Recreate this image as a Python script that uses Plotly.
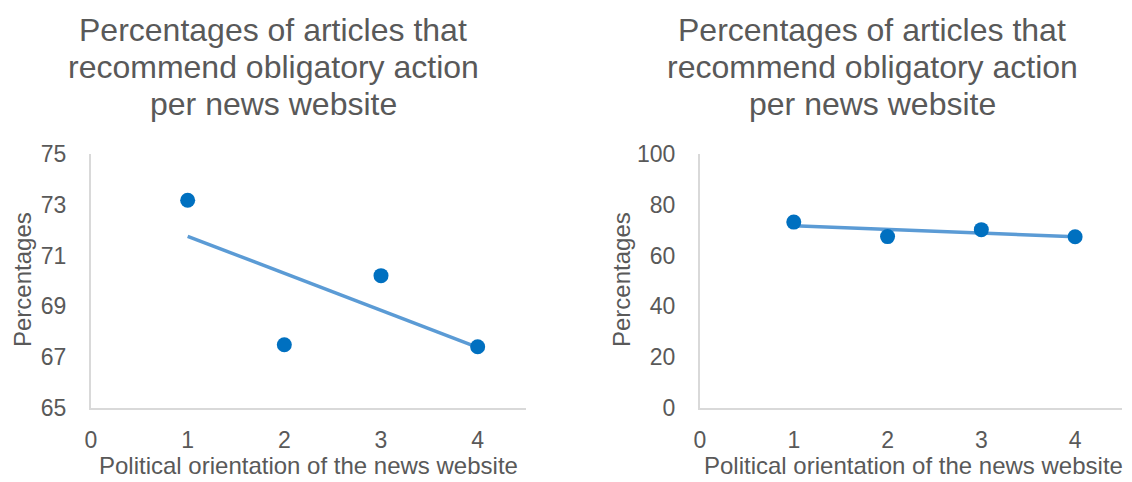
import numpy as np
import plotly.graph_objects as go

# Data
orientation = [1, 2, 3, 4]
percentages = [73.18, 67.49, 70.21, 67.41]
x_ticks = [0, 1, 2, 3, 4]
y_ticks_left = [65, 67, 69, 71, 73, 75]
y_ticks_right = [0, 20, 40, 60, 80, 100]
title_lines = ["Percentages of articles that", "recommend obligatory action", "per news website"]
x_title = "Political orientation of the news website"
y_title = "Percentages"

W, H = 1132, 482
TEXT = "#595959"
FONT = "Liberation Sans, Arial, sans-serif"
MARK = "#0070C0"
TREND = "#5B9BD5"
AXIS = "#d9d9d9"

slope, intercept = np.polyfit(orientation, percentages, 1)
trend_x = [min(orientation), max(orientation)]
trend_y = [slope * v + intercept for v in trend_x]

fig = go.Figure()
for xa, ya in [("x", "y"), ("x2", "y2")]:
    fig.add_trace(go.Scatter(x=trend_x, y=trend_y, mode="lines", xaxis=xa, yaxis=ya,
                             line=dict(color=TREND, width=3.5), hoverinfo="skip", showlegend=False))
    fig.add_trace(go.Scatter(x=orientation, y=percentages, mode="markers", xaxis=xa, yaxis=ya,
                             marker=dict(color=MARK, size=15), showlegend=False))

def px_x(p):
    return p / W

def px_y(p):
    return 1 - p / H

top, bottom = 154, 408
common_x = dict(range=[0, 4.5], tickvals=x_ticks, showgrid=False, zeroline=False, showline=True,
                linecolor=AXIS, linewidth=2, ticks="", ticklabelstandoff=10, automargin=False,
                tickfont=dict(size=23, color=TEXT, family=FONT), fixedrange=True)
common_y = dict(showgrid=False, zeroline=False, showline=True, linecolor=AXIS, linewidth=2,
                ticks="", ticklabelstandoff=18, automargin=False,
                tickfont=dict(size=23, color=TEXT, family=FONT), fixedrange=True)

fig.update_layout(
    width=W, height=H, margin=dict(l=0, r=0, t=0, b=0, pad=0),
    paper_bgcolor="white", plot_bgcolor="white",
    xaxis=dict(domain=[px_x(91), px_x(526)], anchor="y", **common_x),
    yaxis=dict(domain=[px_y(bottom), px_y(top)], anchor="x", range=[65, 75], tickvals=y_ticks_left, **common_y),
    xaxis2=dict(domain=[px_x(700), px_x(1122)], anchor="y2", **common_x),
    yaxis2=dict(domain=[px_y(bottom), px_y(top)], anchor="x2", range=[0, 100], tickvals=y_ticks_right, **common_y),
)

ann = []
for cx in [273, 872]:
    for i, line in enumerate(title_lines):
        ann.append(dict(text=line, x=px_x(cx), y=px_y(30 + i * 37), xref="paper", yref="paper",
                        xanchor="center", yanchor="middle", showarrow=False,
                        font=dict(size=32, color=TEXT, family=FONT)))
for cx in [308, 913]:
    ann.append(dict(text=x_title, x=px_x(cx), y=px_y(465), xref="paper", yref="paper",
                    xanchor="center", yanchor="middle", showarrow=False,
                    font=dict(size=24, color=TEXT, family=FONT)))
for cx in [22, 621]:
    ann.append(dict(text=y_title, x=px_x(cx), y=px_y(280), xref="paper", yref="paper",
                    xanchor="center", yanchor="middle", showarrow=False, textangle=-90,
                    font=dict(size=24, color=TEXT, family=FONT)))
fig.update_layout(annotations=ann)

fig.write_html("out.html", config={"displayModeBar": False})
